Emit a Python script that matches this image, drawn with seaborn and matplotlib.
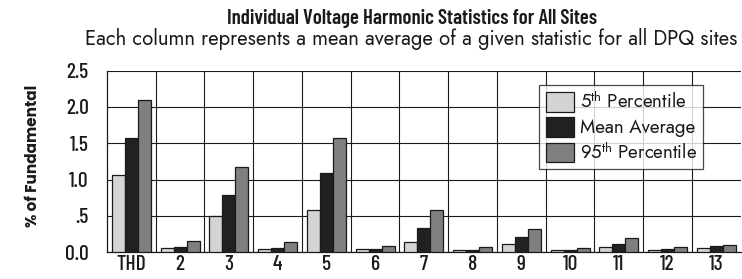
import numpy as np
import matplotlib
matplotlib.use('Agg')
import matplotlib.pyplot as plt
from matplotlib import font_manager
import seaborn as sns
import pandas as pd

harmonics = ['THD', '2', '3', '4', '5', '6', '7', '8', '9', '10', '11', '12', '13']
p5 = [1.07, 0.055, 0.50, 0.045, 0.58, 0.04, 0.14, 0.03, 0.11, 0.025, 0.07, 0.03, 0.06]
mean_avg = [1.58, 0.07, 0.79, 0.06, 1.09, 0.045, 0.34, 0.035, 0.21, 0.03, 0.12, 0.04, 0.085]
p95 = [2.10, 0.15, 1.17, 0.14, 1.58, 0.08, 0.58, 0.07, 0.32, 0.055, 0.20, 0.07, 0.095]
series = [r'5$^{th}$ Percentile', 'Mean Average', r'95$^{th}$ Percentile']
colors = ['#d4d4d4', '#231f20', '#7f7f7f']
yticks = [0, 0.5, 1.0, 1.5, 2.0, 2.5]
ytick_labels = ['0.0', '.5', '1.0', '1.5', '2.0', '2.5']

df = pd.DataFrame({
    'harmonic': harmonics * 3,
    'value': p5 + mean_avg + p95,
    'stat': [series[0]] * 13 + [series[1]] * 13 + [series[2]] * 13,
})

names = {f.name for f in font_manager.fontManager.ttflist}


def pick(*cands):
    for c in cands:
        if c in names:
            return [c, 'DejaVu Sans']
    return ['DejaVu Sans']


geo = pick('Jost', 'Questrial', 'Roboto')
cond = pick('Barlow Condensed', 'Roboto Condensed')
heavy = pick('Poppins', 'Roboto')

sns.set_style('white')
plt.rcParams['font.family'] = geo
plt.rcParams['mathtext.default'] = 'regular'
ink = '#1a1a1a'

fig = plt.figure(figsize=(7.42, 2.79), dpi=100)
ax = fig.add_axes([0.1442, 0.0957, 0.854, 0.651])
sns.barplot(data=df, x='harmonic', y='value', hue='stat', order=harmonics,
            hue_order=series, palette=colors, width=0.8, gap=0,
            edgecolor=ink, linewidth=0.9, ax=ax, zorder=3)

ax.set_ylim(0, 2.5)
ax.set_xlim(-0.5, 12.5)
ax.set_yticks(yticks)
ax.set_yticklabels(ytick_labels, fontsize=15.5, family=cond, fontweight='medium')
ax.set_xticks(range(13))
ax.set_xticklabels(harmonics, fontsize=15.5, family=cond, fontweight='medium')
ax.set_xticks(np.arange(0.5, 12.5, 1), minor=True)
ax.tick_params(axis='both', which='both', length=0, colors=ink)
ax.tick_params(axis='y', which='major', length=10, width=0.8, pad=3)
ax.tick_params(axis='x', pad=2)
ax.grid(axis='y', which='major', color=ink, linewidth=0.8, zorder=0)
ax.grid(axis='x', which='minor', color=ink, linewidth=0.8, zorder=0)
ax.set_axisbelow(True)
for s in ['top', 'right']:
    ax.spines[s].set_visible(False)
for s in ['left', 'bottom']:
    ax.spines[s].set_color(ink)
    ax.spines[s].set_linewidth(0.9)
ax.set_xlabel('')
ax.set_ylabel('% of Fundamental', fontsize=11, fontweight='bold', family=heavy, color=ink)
ax.yaxis.set_label_coords(-0.104, 0.533)

leg = ax.legend(loc='upper right', bbox_to_anchor=(0.941, 0.921), borderaxespad=0,
                fontsize=13.5, frameon=True, fancybox=False, edgecolor=ink,
                handlelength=1.5, handleheight=1.25, handletextpad=0.3,
                labelspacing=0.25, borderpad=0.35)
leg.get_frame().set_linewidth(0.9)
for t in leg.get_texts():
    t.set_color(ink)

fig.text(0.555, 0.935, 'Individual Voltage Harmonic Statistics for All Sites',
         ha='center', va='center', fontsize=15, fontweight='semibold', family=cond, color=ink)
fig.text(0.554, 0.862, 'Each column represents a mean average of a given statistic for all DPQ sites',
         ha='center', va='center', fontsize=14.6, color=ink)

fig.savefig('out.png', dpi=100)
